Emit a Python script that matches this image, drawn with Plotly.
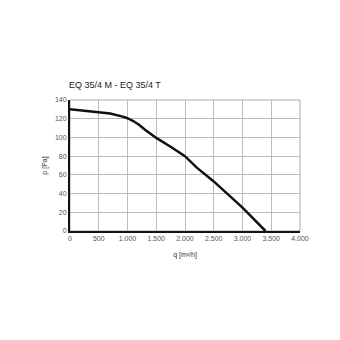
import plotly.graph_objects as go

q = [0, 500, 700, 900, 1000, 1100, 1200, 1300, 1500, 1750, 1900, 2000, 2200, 2500, 3000, 3400]
p = [130, 127, 125.5, 122.5, 120.5, 117.5, 113.5, 108.5, 99.5, 90, 84.5, 80, 68, 53, 25, 0]

x_ticks = [0, 500, 1000, 1500, 2000, 2500, 3000, 3500, 4000]
x_labels = ["0", "500", "1.000", "1.500", "2.000", "2.500", "3.000", "3.500", "4.000"]
y_ticks = [0, 20, 40, 60, 80, 100, 120, 140]

fig = go.Figure()
fig.add_trace(go.Scatter(x=q, y=p, mode="lines",
                         line=dict(color="#111111", width=2.5),
                         hoverinfo="skip", showlegend=False))

txt = "#555555"
fig.update_layout(
    width=340, height=340,
    margin=dict(l=70, r=40, t=100, b=109),
    paper_bgcolor="white", plot_bgcolor="white",
    font=dict(family="Liberation Sans, Arial, sans-serif", color=txt, size=7),
    annotations=[dict(text="EQ 35/4 M - EQ 35/4 T", xref="paper", yref="paper",
                      x=-0.015, y=1.115, xanchor="left", yanchor="middle", showarrow=False,
                      font=dict(size=9, color="#222222"))],
)
fig.update_xaxes(range=[0, 4000], tickvals=x_ticks, ticktext=x_labels,
                 showgrid=True, gridcolor="#bbbbbb", gridwidth=1,
                 showline=True, linecolor="#111111", linewidth=2,
                 ticks="", zeroline=False, color=txt,
                 title=dict(text="q [m³/h]", font=dict(size=7, color="#333333"), standoff=11),
                 tickfont=dict(size=7, color=txt))
fig.update_yaxes(range=[0, 140], tickvals=y_ticks,
                 showgrid=True, gridcolor="#bbbbbb", gridwidth=1,
                 showline=True, linecolor="#111111", linewidth=2,
                 ticks="", zeroline=False, color=txt,
                 title=dict(text="p [Pa]", font=dict(size=7, color="#333333"), standoff=6),
                 tickfont=dict(size=7, color=txt))
fig.add_shape(type="rect", xref="paper", yref="paper", x0=0, y0=0, x1=1, y1=1,
              line=dict(color="#aaaaaa", width=1), layer="below")
fig.write_html("out.html")
